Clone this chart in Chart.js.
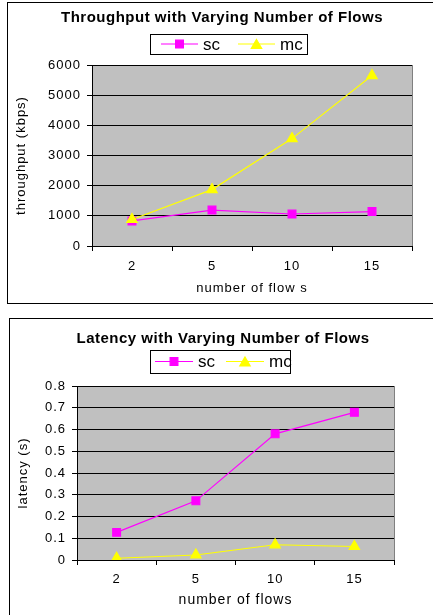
<!DOCTYPE html>
<html>
<head>
<meta charset="utf-8">
<script src="https://cdn.jsdelivr.net/npm/chart.js@4.4.1/dist/chart.umd.min.js"></script>
<style>
  body { margin: 0; background: #fff; overflow: hidden; }
  .panel { position: absolute; border: 1px solid #000; border-right: none; background: #fff; }
  #panel1 { left: 7px; top: 2px; width: 430px; height: 300px; }
  #panel2 { left: 9px; top: 318px; width: 430px; height: 300px; border-bottom: none; }
  canvas { display: block; }
</style>
</head>
<body>
<div class="panel" id="panel1"><canvas id="throughputChart" width="425" height="300"></canvas></div>
<div class="panel" id="panel2"><canvas id="latencyChart" width="423" height="296"></canvas></div>
<script>
// data
const flowCounts = ['2', '5', '10', '15'];
const seriesNames = ['sc', 'mc'];
const throughputSc = [830, 1190, 1060, 1140];
const throughputMc = [880, 1870, 3560, 5650];
const throughputTicks = [0, 1000, 2000, 3000, 4000, 5000, 6000];
const latencySc = [0.127, 0.272, 0.58, 0.679];
const latencyMc = [0.008, 0.023, 0.07, 0.062];
const latencyTicks = [0, 0.1, 0.2, 0.3, 0.4, 0.5, 0.6, 0.7, 0.8];

const FONT = '"Liberation Sans", Arial, sans-serif';
Chart.defaults.font.family = FONT;
Chart.defaults.color = '#000';

// gray plot area, title and boxed legend in the old spreadsheet look
const excelFrame = {
    id: 'excelFrame',
    beforeLayout(chart) {
        chart.ctx.letterSpacing = '1px';
    },
    beforeDraw(chart) {
        const ctx = chart.ctx;
        const a = chart.chartArea;
        ctx.letterSpacing = '1px';
        ctx.save();
        ctx.fillStyle = '#C0C0C0';
        ctx.fillRect(a.left, a.top, a.right - a.left, a.bottom - a.top);
        ctx.strokeStyle = '#808080';
        ctx.lineWidth = 1;
        ctx.strokeRect(Math.round(a.left) + 0.5, Math.round(a.top) + 0.5, Math.round(a.right - a.left), Math.round(a.bottom - a.top));
        ctx.restore();
    },
    afterDraw(chart, args, opts) {
        const ctx = chart.ctx;
        ctx.save();
        // title
        ctx.letterSpacing = '0.5px';
        ctx.font = 'bold 15px ' + FONT;
        ctx.fillStyle = '#000';
        ctx.textAlign = 'center';
        ctx.textBaseline = 'alphabetic';
        ctx.fillText(opts.title, opts.titleX, opts.titleY);

        // legend
        const b = opts.box;
        ctx.fillStyle = '#fff';
        ctx.fillRect(b.x, b.y, b.w, b.h);
        ctx.strokeStyle = '#000';
        ctx.lineWidth = 1;
        ctx.strokeRect(b.x + 0.5, b.y + 0.5, b.w, b.h);
        const cy = b.y + b.h / 2;
        ctx.letterSpacing = '0px';
        ctx.font = '17px ' + FONT;
        ctx.textAlign = 'left';
        ctx.textBaseline = 'middle';
        chart.data.datasets.forEach((ds, i) => {
            const x0 = opts.starts[i];
            ctx.strokeStyle = ds.borderColor;
            ctx.lineWidth = 1.2;
            ctx.beginPath();
            ctx.moveTo(x0, cy);
            ctx.lineTo(x0 + opts.lineLen, cy);
            ctx.stroke();
            ctx.fillStyle = ds.backgroundColor;
            Chart.helpers.drawPoint(ctx, {
                pointStyle: ds.pointStyle, radius: ds.pointRadius, borderWidth: 1, rotation: 0
            }, x0 + opts.lineLen / 2, cy + (ds.pointStyle === 'triangle' ? 1.5 : 0));
            ctx.fillStyle = '#000';
            ctx.fillText(ds.label, x0 + opts.lineLen + opts.textGap, cy + 1);
        });
        ctx.restore();
    }
};

function buildChart(canvasId, cfg) {
    const top = cfg.ticks[cfg.ticks.length - 1];
    return new Chart(document.getElementById(canvasId), {
        type: 'line',
        data: {
            labels: flowCounts,
            datasets: [
                {
                    label: seriesNames[0], data: cfg.sc,
                    borderColor: '#FF00FF', backgroundColor: '#FF00FF',
                    pointStyle: 'rect', pointRadius: 5.5, borderWidth: 1.2, order: 1
                },
                {
                    label: seriesNames[1], data: cfg.mc,
                    borderColor: '#FFFF00', backgroundColor: '#FFFF00',
                    pointStyle: 'triangle', pointRadius: 6, borderWidth: 1.2, order: 0
                }
            ]
        },
        options: {
            responsive: false,
            animation: false,
            layout: { padding: cfg.padding },
            plugins: {
                legend: { display: false },
                tooltip: { enabled: false },
                excelFrame: cfg.frame
            },
            scales: {
                x: {
                    offset: true,
                    grid: { offset: true, drawOnChartArea: false, color: '#000', tickLength: 5 },
                    border: { color: '#000' },
                    ticks: { padding: cfg.xTickPad, font: { size: 13 } },
                    title: { display: true, text: cfg.xTitle, font: { size: cfg.xTitleSize }, padding: { top: 0, bottom: cfg.xTitlePad } },
                    afterFit: s => { s.height = cfg.xHeight; }
                },
                y: {
                    min: 0,
                    max: top,
                    afterBuildTicks: s => { s.ticks = cfg.ticks.map(v => ({ value: v })); },
                    ticks: { padding: 6, font: { size: 13 }, callback: v => String(v) },
                    grid: {
                        tickLength: 5,
                        color: c => (c.tick && c.tick.value === top && c.type !== 'tick') ? '#808080' : '#000'
                    },
                    border: { color: '#000' },
                    title: { display: true, text: cfg.yTitle, font: { size: 13 }, padding: { top: 6, bottom: 0 } },
                    afterFit: s => { s.width = cfg.yWidth; }
                }
            }
        },
        plugins: [excelFrame]
    });
}

buildChart('throughputChart', {
    sc: throughputSc,
    mc: throughputMc,
    ticks: throughputTicks,
    xTitle: 'number of flow s',
    yTitle: 'throughput (kbps)',
    xTitleSize: 13,
    xTitlePad: 7,
    xTickPad: 8,
    xHeight: 57,
    yWidth: 84,
    padding: { top: 62, right: 21, left: 0, bottom: 0 },
    frame: {
        title: 'Throughput with Varying Number of Flows',
        titleX: 214, titleY: 19,
        box: { x: 142, y: 31, w: 157, h: 20 },
        starts: [153, 230], lineLen: 37, textGap: 5
    }
});

buildChart('latencyChart', {
    sc: latencySc,
    mc: latencyMc,
    ticks: latencyTicks,
    xTitle: 'number of flows',
    yTitle: 'latency (s)',
    xTitleSize: 14,
    xTitlePad: 6,
    xTickPad: 7,
    xHeight: 55,
    yWidth: 67,
    padding: { top: 67, right: 39, left: 0, bottom: 0 },
    frame: {
        title: 'Latency with Varying Number of Flows',
        titleX: 213, titleY: 24,
        box: { x: 140, y: 31, w: 140, h: 23 },
        starts: [145, 216], lineLen: 38, textGap: 5
    }
});
</script>
</body>
</html>
